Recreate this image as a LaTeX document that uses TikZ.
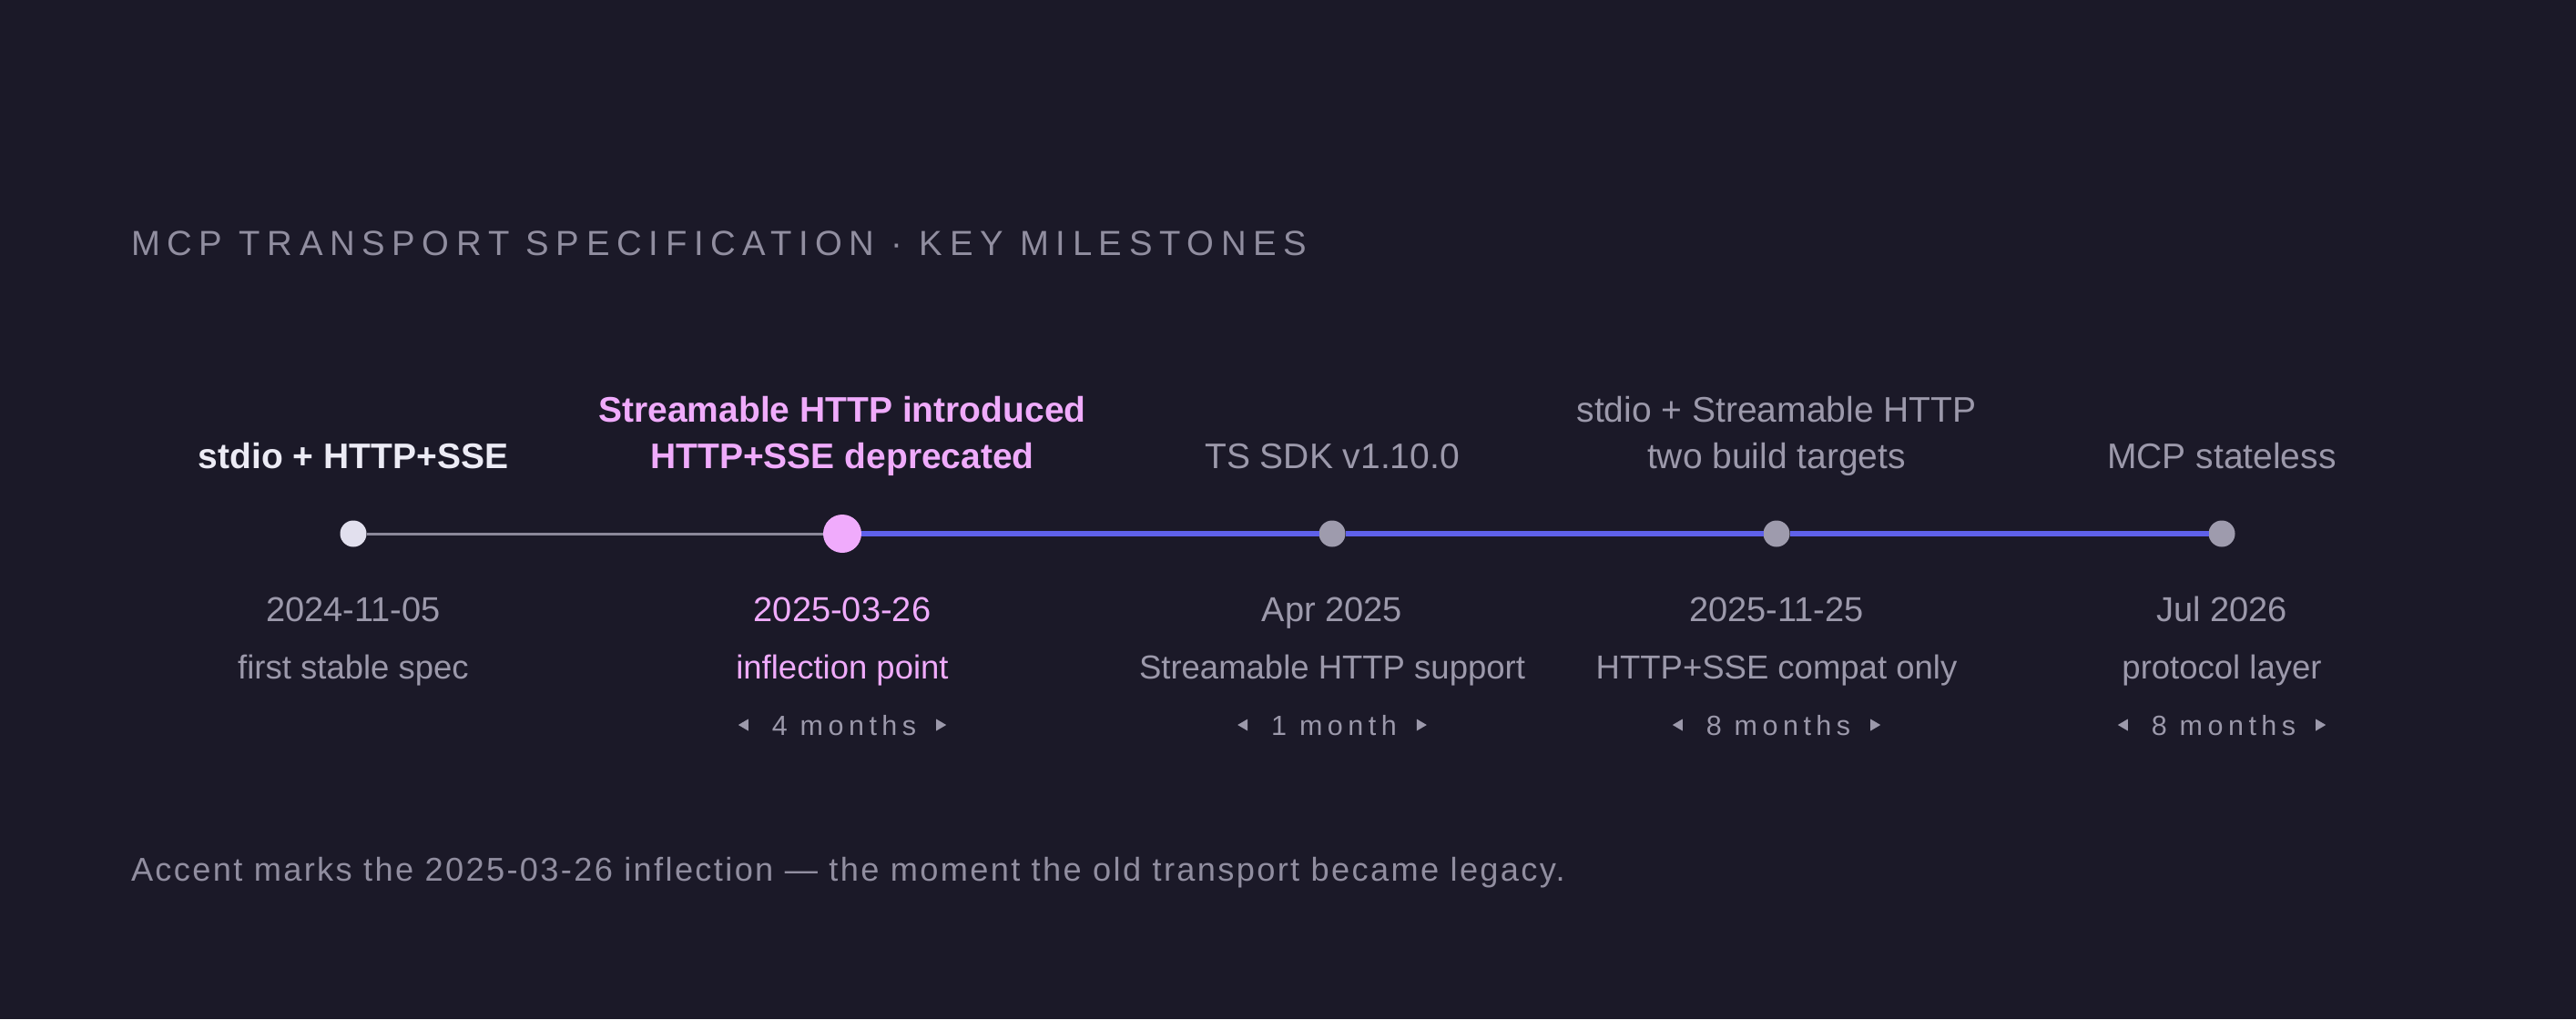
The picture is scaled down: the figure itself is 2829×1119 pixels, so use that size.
\documentclass[tikz,border=0pt]{standalone}
\usepackage{fontspec}
\setmainfont{Liberation Sans}
\newfontfamily\titlefont[LetterSpace=20]{Liberation Sans}
\newfontfamily\footfont[LetterSpace=6.5]{Liberation Sans}
\newfontfamily\durfont[LetterSpace=18]{Liberation Sans}
\usetikzlibrary{calc}
\definecolor{bgc}{HTML}{1B1928}
\definecolor{txtgray}{HTML}{9C99AB}
\definecolor{titlegray}{HTML}{918EA0}
\definecolor{whitelab}{HTML}{ECEBF5}
\definecolor{firstdot}{HTML}{E2E0EE}
\definecolor{accent}{HTML}{F0ABFC}
\definecolor{blueline}{HTML}{5F61EA}
\definecolor{grayline}{HTML}{8B889A}
\definecolor{dotgray}{HTML}{9E9BAD}
\tikzset{
  txt/.style={inner sep=0pt, outer sep=0pt, anchor=base},
  labfont/.style={txt, font=\fontsize{39pt}{46pt}\selectfont},
  datefont/.style={txt, font=\fontsize{38pt}{45pt}\selectfont, text=txtgray},
  descfont/.style={txt, font=\fontsize{36.5pt}{43pt}\selectfont, text=txtgray},
  durtext/.style={txt, font=\durfont\fontsize{30.5pt}{36pt}\selectfont, text=txtgray},
  dot/.style={circle, inner sep=0pt, outer sep=0pt, minimum size=29pt, fill=dotgray},
  bigdot/.style={circle, inner sep=0pt, outer sep=0pt, minimum size=42pt, fill=accent},
  oldline/.style={draw=grayline, line width=3pt},
  newline/.style={draw=blueline, line width=6pt},
  tri/.style={fill=txtgray}
}
\newcommand{\durarrows}[1]{%
  \fill[tri] ($(#1.base west)+(-26,-4.5)$) -- ($(#1.base west)+(-26,-17.5)$) -- ($(#1.base west)+(-37,-11)$) -- cycle;
  \fill[tri] ($(#1.base east)+(22,-4.5)$) -- ($(#1.base east)+(22,-17.5)$) -- ($(#1.base east)+(33,-11)$) -- cycle;
}
\begin{document}
\begin{tikzpicture}[x=1pt,y=-1pt]
\fill[bgc] (0,0) rectangle (2829,1119);
\useasboundingbox (0,0) rectangle (2829,1119);

% title
\node[txt, anchor=base west, text=titlegray, font=\titlefont\fontsize{38.3pt}{45pt}\selectfont] (title) at (144,280) {MCP TRANSPORT SPECIFICATION · KEY MILESTONES};

% dots
\node[dot, fill=firstdot] (n1) at (388,586) {};
\node[bigdot] (n2) at (925,586) {};
\node[dot] (n3) at (1463,586) {};
\node[dot] (n4) at (1951,586) {};
\node[dot] (n5) at (2440,586) {};

% connectors
\draw[oldline] (n1) -- (n2);
\draw[newline] (n2) -- (n3);
\draw[newline] (n3) -- (n4);
\draw[newline] (n4) -- (n5);

% labels above
\node[labfont, text=whitelab] (l1) at (388,514) {\bfseries stdio + HTTP+SSE};
\node[labfont, text=accent] (l2a) at (925,463) {\bfseries Streamable HTTP introduced};
\node[labfont, text=accent] (l2b) at (925,514) {\bfseries HTTP+SSE deprecated};
\node[labfont, text=txtgray] (l3) at (1463,514) {TS SDK v1.10.0};
\node[labfont, text=txtgray] (l4a) at (1951,463) {stdio + Streamable HTTP};
\node[labfont, text=txtgray] (l4b) at (1951,514) {two build targets};
\node[labfont, text=txtgray] (l5) at (2440,514) {MCP stateless};

% dates
\node[datefont] (d1) at (388,682) {2024-11-05};
\node[datefont, text=accent] (d2) at (925,682) {2025-03-26};
\node[datefont] (d3) at (1463,682) {Apr 2025};
\node[datefont] (d4) at (1951,682) {2025-11-25};
\node[datefont] (d5) at (2440,682) {Jul 2026};

% descriptions
\node[descfont] (s1) at (388,745) {first stable spec};
\node[descfont, text=accent] (s2) at (925,745) {inflection point};
\node[descfont] (s3) at (1463,745) {Streamable HTTP support};
\node[descfont] (s4) at (1951,745) {HTTP+SSE compat only};
\node[descfont] (s5) at (2440,745) {protocol layer};

% durations
\node[durtext] (u2) at (927,807) {4 months};
\node[durtext] (u3) at (1465,807) {1 month};
\node[durtext] (u4) at (1953,807) {8 months};
\node[durtext] (u5) at (2442,807) {8 months};
\durarrows{u2}
\durarrows{u3}
\durarrows{u4}
\durarrows{u5}

% footer
\node[txt, anchor=base west, text=titlegray, font=\footfont\fontsize{36.2pt}{43pt}\selectfont] (foot) at (144,967) {Accent marks the 2025-03-26 inflection — the moment the old transport became legacy.};
\end{tikzpicture}
\end{document}
